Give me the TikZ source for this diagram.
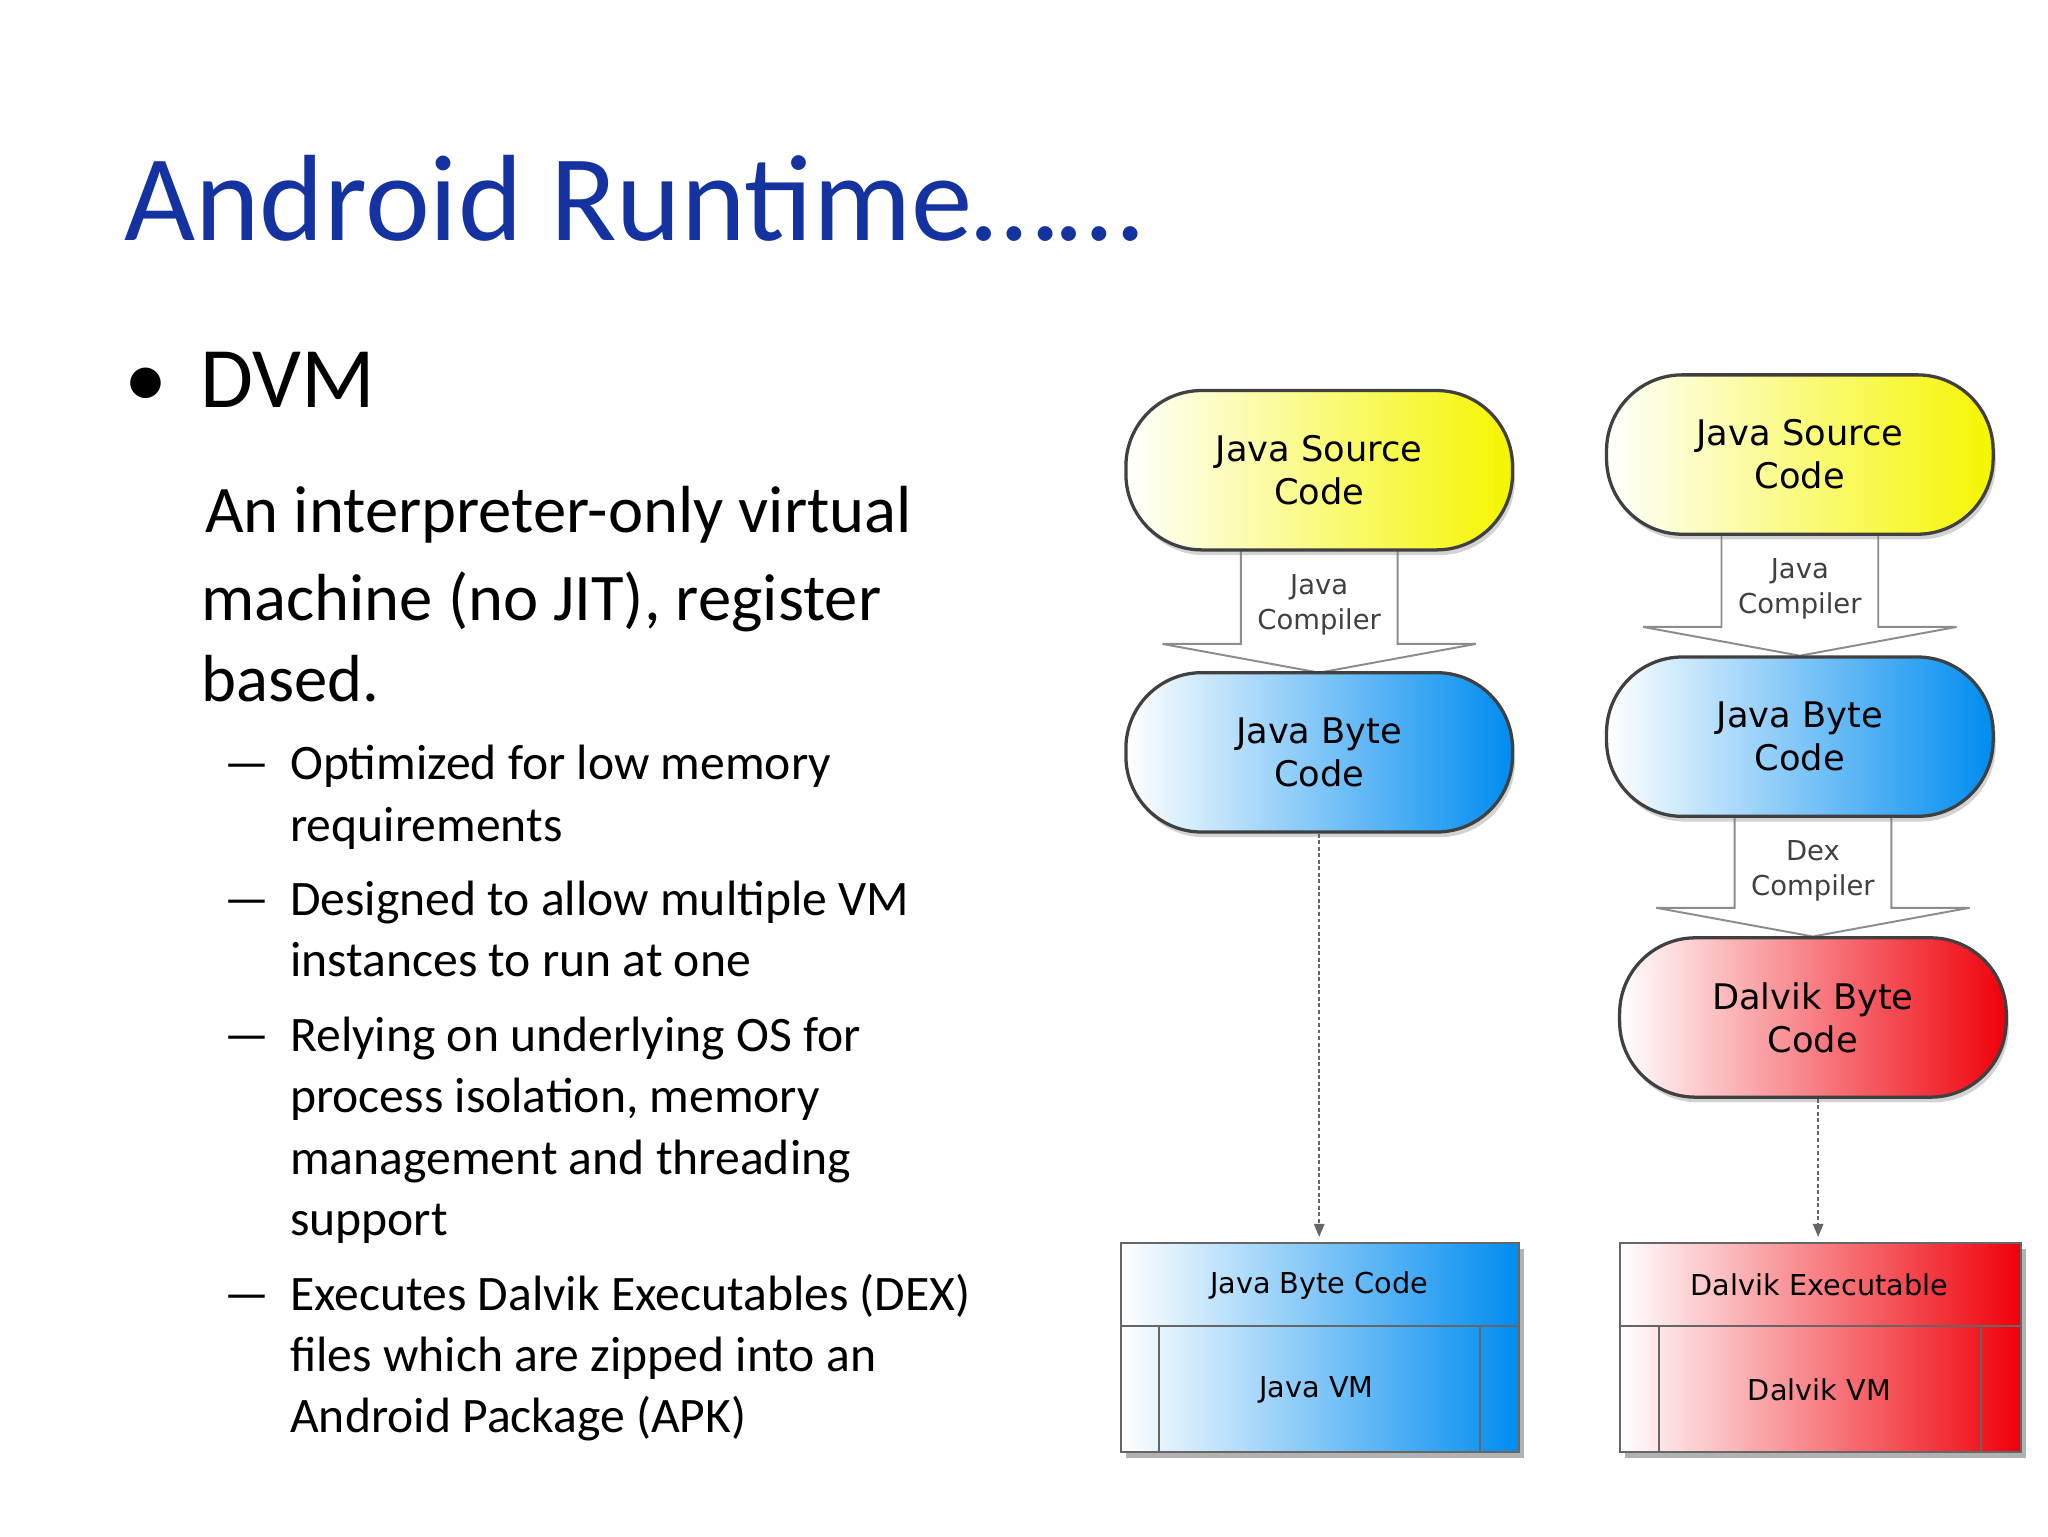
\documentclass[tikz,border=0pt]{standalone}
\usepackage{fontspec}
\setmainfont{Carlito}
\newfontfamily\dfont{DejaVu Sans}
\usetikzlibrary{arrows.meta,shadows}
\definecolor{tblue}{RGB}{20,50,160}
\definecolor{yel}{RGB}{245,245,0}
\definecolor{blu}{RGB}{0,140,240}
\definecolor{rd}{RGB}{240,0,10}
\begin{document}
\begin{tikzpicture}[x=1pt,y=-1pt,
 pill/.style={draw=black!75,line width=2.5pt,rounded corners=58pt,minimum width=296pt,minimum height=122pt,align=center,font=\dfont\fontsize{27}{33}\selectfont,drop shadow={shadow xshift=2pt,shadow yshift=-4pt,opacity=.35}},
 fat/.style={draw=black!45,line width=1.5pt,fill=white},
 small/.style={font=\dfont\fontsize{21}{27}\selectfont,align=center,text=black!75},
 dashconn/.style={densely dashed,draw=black!60,line width=1.3pt,-{Triangle[length=10pt,width=8pt]}},
 body/.style={anchor=base west,font=\fontsize{51}{53}\selectfont},
 sub/.style={anchor=base west,font=\fontsize{38}{40}\selectfont}]
\useasboundingbox (0,0) rectangle (1568,1176);
\node[anchor=base west,text=tblue,font=\fontsize{94}{98}\selectfont,inner sep=0pt] (title) at (95,184) {Android Runtime……};
\node[anchor=base west,font=\fontsize{66}{68}\selectfont,inner sep=0pt] (bul) at (95,312) {•};
\node[anchor=base west,font=\fontsize{66}{68}\selectfont,inner sep=0pt] (dvm) at (153,312) {DVM};
\node[body,inner sep=0pt] (b1) at (157,408) {An interpreter-only virtual};
\node[body,inner sep=0pt] (b2) at (154,475) {machine (no JIT), register};
\node[body,inner sep=0pt] (b3) at (154,537) {based.};
\foreach \y/\t [count=\i] in {597/Optimized for low memory,644/requirements,701/Designed to allow multiple VM,748/instances to run at one,805/Relying on underlying OS for,852/{process isolation, memory},899/management and threading,946/support,1003/Executes Dalvik Executables (DEX),1050/files which are zipped into an,1097/Android Package (APK)}
  \node[sub,inner sep=0pt] (s\i) at (222,\y) {\t};
\foreach \y [count=\i] in {597,701,805,1003}
  \node[sub,inner sep=0pt] (d\i) at (172,\y) {—};
% left column
\draw[fat] (950,418) -- (950,493) -- (890,493) -- (1010,515) -- (1130,493) -- (1070,493) -- (1070,418) -- cycle;
\node[small] (jc1) at (1010,463) {Java\\Compiler};
\node[pill,left color=white,right color=yel] (js1) at (1010,360) {Java Source\\Code};
\node[pill,left color=white,right color=blu] (jb1) at (1010,576) {Java Byte\\Code};
% right column
\draw[fat] (1318,408) -- (1318,480) -- (1258,480) -- (1378,502) -- (1498,480) -- (1438,480) -- (1438,408) -- cycle;
\node[small] (jc2) at (1378,451) {Java\\Compiler};
\draw[fat] (1328,623) -- (1328,695) -- (1268,695) -- (1388,717) -- (1508,695) -- (1448,695) -- (1448,623) -- cycle;
\node[small] (dc) at (1388,667) {Dex\\Compiler};
\node[pill,left color=white,right color=yel] (js2) at (1378,348) {Java Source\\Code};
\node[pill,left color=white,right color=blu] (jb2) at (1378,564) {Java Byte\\Code};
\node[pill,left color=white,right color=rd] (db) at (1388,779) {Dalvik Byte\\Code};
% VM boxes
\fill[black!30] (862,956) rectangle (1167,1116);
\fill[black!30] (1244,956) rectangle (1551,1116);
\shade[left color=white,right color=blu] (858,952) rectangle (1163,1112);
\shade[left color=white,right color=rd] (1240,952) rectangle (1547,1112);
\draw[black!60,line width=1.5pt] (858,952) rectangle (1163,1112);
\draw[black!60,line width=1.5pt] (858,1015) -- (1163,1015) (887,1015) -- (887,1112) (1133,1015) -- (1133,1112);
\draw[black!60,line width=1.5pt] (1240,952) rectangle (1547,1112);
\draw[black!60,line width=1.5pt] (1240,1015) -- (1547,1015) (1270,1015) -- (1270,1112) (1517,1015) -- (1517,1112);
\node[font=\dfont\fontsize{22}{26}\selectfont] (jbc) at (1010,984) {Java Byte Code};
\node[font=\dfont\fontsize{22}{26}\selectfont] (jvm) at (1008,1064) {Java VM};
\node[font=\dfont\fontsize{22}{26}\selectfont] (dex) at (1393,984) {Dalvik Executable};
\node[font=\dfont\fontsize{22}{26}\selectfont] (dvm2) at (1393,1064) {Dalvik VM};
\coordinate (t1) at (1010,947);
\coordinate (t2) at (1392,947);
\draw[dashconn] (jb1.south) -- (t1);
\draw[dashconn] (db.south -| t2) -- (t2);
\end{tikzpicture}
\end{document}
